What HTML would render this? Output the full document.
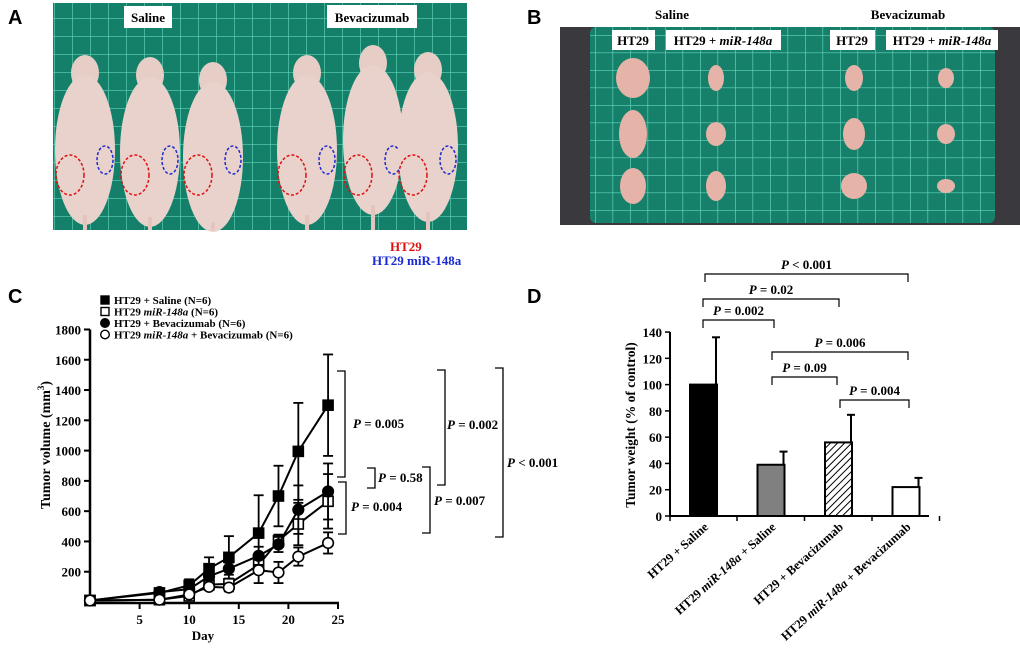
<!DOCTYPE html>
<html><head><meta charset="utf-8"><style>
body{margin:0;background:#fff;}
svg{display:block;font-family:"Liberation Serif",serif;font-weight:bold;}
.sans{font-family:"Liberation Sans",sans-serif;}
</style></head><body>
<svg width="1020" height="654" viewBox="0 0 1020 654">
<defs>
<pattern id="grid" width="18" height="18" patternUnits="userSpaceOnUse"><rect width="18" height="18" fill="#14806a"/><path d="M0 0H18M0 0V18" stroke="#5fd2b8" stroke-width="1.3"/></pattern>
<pattern id="gridB" width="17.5" height="17.5" patternUnits="userSpaceOnUse"><rect width="18" height="18" fill="#16806a"/><path d="M0 0H18M0 0V18" stroke="#62d6bc" stroke-width="1.3"/></pattern>
<pattern id="hatch" width="5" height="5" patternUnits="userSpaceOnUse" patternTransform="rotate(45)"><rect width="5" height="5" fill="#fff"/><line x1="0" y1="0" x2="0" y2="5" stroke="#000" stroke-width="2"/></pattern>
</defs>

<!-- Panel labels -->
<g class="sans" font-size="20" font-family="Liberation Sans, sans-serif">
<text x="8" y="24">A</text>
<text x="527" y="24">B</text>
<text x="8" y="303">C</text>
<text x="527" y="303">D</text>
</g>

<!-- Panel A photo -->
<g>
<rect x="53" y="3" width="414" height="227" fill="url(#grid)"/>
<g id="mice" fill="#e7cfc9"></g>
<rect x="124" y="6" width="48" height="22" fill="#fff"/>
<text x="148" y="22" font-size="13" text-anchor="middle">Saline</text>
<rect x="327" y="5" width="90" height="23" fill="#fff"/>
<text x="372" y="22" font-size="13" text-anchor="middle">Bevacizumab</text>
</g>
<text x="390" y="251" font-size="13" fill="#e01010">HT29</text>
<text x="372" y="265" font-size="13" fill="#1a2ad0">HT29 miR-148a</text>

<!-- Panel B photo -->
<g>
<rect x="560" y="27" width="460" height="198" fill="#3a3a3e"/>
<rect x="590" y="27" width="405" height="196" rx="6" fill="url(#gridB)"/>
<g id="tumors"></g>
<text x="672" y="19" font-size="13" text-anchor="middle">Saline</text>
<text x="908" y="19" font-size="13" text-anchor="middle">Bevacizumab</text>
<rect x="612" y="30" width="43" height="20" fill="#fff"/><text x="633" y="45" font-size="13" text-anchor="middle">HT29</text>
<rect x="666" y="30" width="115" height="20" fill="#fff"/><text x="723" y="45" font-size="13" text-anchor="middle">HT29 + <tspan font-style="italic">miR-148a</tspan></text>
<rect x="830" y="30" width="45" height="20" fill="#fff"/><text x="852" y="45" font-size="13" text-anchor="middle">HT29</text>
<rect x="886" y="30" width="112" height="20" fill="#fff"/><text x="942" y="45" font-size="13" text-anchor="middle">HT29 + <tspan font-style="italic">miR-148a</tspan></text>
</g>

<g id="chartC"></g>
<g id="chartD"></g>
</svg>
<script>
const NS='http://www.w3.org/2000/svg';
function mk(tag,attrs,parent,txt){const e=document.createElementNS(NS,tag);for(const k in attrs)e.setAttribute(k,attrs[k]);if(txt!==undefined)e.textContent=txt;parent.appendChild(e);return e;}

// mice decoration
const mice=document.getElementById('mice');
[[85,55],[150,57],[213,62],[307,55],[373,45],[428,52]].forEach(function(m,i){
  const g=mk('g',{},mice);
  
  
  mk('ellipse',{cx:m[0],cy:m[1]+18,rx:14,ry:18,fill:'#e6cdc6'},g);
  mk('ellipse',{cx:m[0],cy:m[1]+95,rx:30,ry:75,fill:'#e9d2cb'},g);
  mk('rect',{x:m[0]-2,y:m[1]+160,width:4,height:230-m[1]-160,fill:'#e5c4bd'},g);
  mk('ellipse',{cx:m[0]-15,cy:175,rx:14,ry:20,fill:'none',stroke:'#e01010','stroke-width':1.5,'stroke-dasharray':'3 2'},g);
  mk('ellipse',{cx:m[0]+20,cy:160,rx:8,ry:14,fill:'none',stroke:'#1a2ad0','stroke-width':1.5,'stroke-dasharray':'3 2'},g);
});
const tum=document.getElementById('tumors');
[[633,78,17,20],[716,78,8,13],[854,78,9,13],[946,78,8,10],[633,134,14,24],[716,134,10,12],[854,134,11,16],[946,134,9,10],[633,186,13,18],[716,186,10,15],[854,186,13,13],[946,186,9,7]].forEach(function(t){
  const e=mk('ellipse',{cx:t[0],cy:t[1],rx:t[2],ry:t[3],fill:'#e6b3a8'},tum);
  
  
});

// ===== Chart C data =====
const days=[0,7,10,12,14,17,19,21,24];
const salineMean=[10,60,110,220,295,455,700,995,1300];
const salineErr=[0,15,40,75,140,250,200,320,335];
const mirMean=[10,15,40,115,120,245,405,515,665];
const mirErr=[0,10,20,25,30,50,40,140,180];
const bevMean=[10,65,85,170,220,305,380,610,730];
const bevErr=[0,10,20,30,40,60,50,160,185];
const mirBevMean=[10,15,50,100,95,210,195,300,390];
const mirBevErr=[0,8,15,20,25,85,70,60,70];
const yTicksC=[200,400,600,800,1000,1200,1400,1600,1800];
const xTicksC=[5,10,15,20,25];
const C=document.getElementById('chartC');
const xC=d=>90+d*9.92, yC=v=>602-v*0.1514;
mk('line',{x1:90,y1:yC(1800),x2:90,y2:603,stroke:'#000','stroke-width':2.5},C);
mk('line',{x1:89,y1:603,x2:xC(25)+1,y2:603,stroke:'#000','stroke-width':2.5},C);
yTicksC.forEach(function(v){
  mk('line',{x1:84,y1:yC(v),x2:90,y2:yC(v),stroke:'#000','stroke-width':2},C);
  const t=mk('text',{x:81,y:yC(v)+5,'font-size':13,'text-anchor':'end'},C,v);
  
  
});
xTicksC.forEach(function(d){
  mk('line',{x1:xC(d),y1:603,x2:xC(d),y2:609,stroke:'#000','stroke-width':2},C);
  const t=mk('text',{x:xC(d),y:624,'font-size':13,'text-anchor':'middle'},C,d);
  
  
});
mk('text',{x:203,y:640,'font-size':13,'text-anchor':'middle'},C,'Day');
const yt=mk('text',{transform:'translate(50,445) rotate(-90)','font-size':14,'text-anchor':'middle'},C,'Tumor volume (mm');
mk('tspan',{'font-size':9,dy:-6},yt,'3');mk('tspan',{dy:6},yt,')');


const series=[[salineMean,salineErr,'sq',true],[mirMean,mirErr,'sq',false],[bevMean,bevErr,'ci',true],[mirBevMean,mirBevErr,'ci',false]];
const sNames=['saline','mir148a','bevacizumab','mir148a-bevacizumab'];
series.forEach(function(s,si){
  const g=mk('g',{},C);
  
  
  mk('polyline',{points:days.map((d,i)=>xC(d)+','+yC(s[0][i])).join(' '),fill:'none',stroke:'#000','stroke-width':2},g);
  days.forEach(function(d,i){
    const x=xC(d),y=yC(s[0][i]),e=s[1][i]*0.1514;
    if(e>0){mk('line',{x1:x,y1:y-e,x2:x,y2:y+e,stroke:'#000','stroke-width':1.8},g);
      mk('line',{x1:x-5,y1:y-e,x2:x+5,y2:y-e,stroke:'#000','stroke-width':1.8},g);
      mk('line',{x1:x-5,y1:y+e,x2:x+5,y2:y+e,stroke:'#000','stroke-width':1.8},g);}
    const f=s[3]?'#000':'#fff';
    if(s[2]==='sq')mk('rect',{x:x-5,y:y-5,width:10,height:10,fill:f,stroke:'#000','stroke-width':1.6},g);
    else mk('circle',{cx:x,cy:y,r:5.3,fill:f,stroke:'#000','stroke-width':1.6},g);
  });
});
// legend
const leg=[['HT29 + Saline (N=6)','sq',true],['HT29 |miR-148a| (N=6)','sq',false],['HT29 + Bevacizumab (N=6)','ci',true],['HT29 |miR-148a| + Bevacizumab (N=6)','ci',false]];
leg.forEach(function(l,i){
  const y=300+i*11.5;
  const g=mk('g',{},C);
  
  
  const f=l[2]?'#000':'#fff';
  if(l[1]==='sq')mk('rect',{x:101,y:y-4,width:8,height:8,fill:f,stroke:'#000','stroke-width':1.4},g);
  else mk('circle',{cx:105,cy:y,r:4.3,fill:f,stroke:'#000','stroke-width':1.4},g);
  const t=mk('text',{x:114,y:y+4,'font-size':11},g);
  l[0].split('|').forEach((p,j)=>mk('tspan',j===1?{'font-style':'italic'}:{},t,p));
});
// brackets C
const brC=[[345,371,477,'P = 0.005',353,428],[346,482,534,'P = 0.004',351,511],[375,468,488,'P = 0.58',378,482],[445,370,485,'P = 0.002',447,429],[430,467,533,'P = 0.007',434,505],[503,368,537,'P < 0.001',507,467]];
brC.forEach(function(b){
  const g=mk('g',{},C);
  
  
  mk('path',{d:'M'+(b[0]-8)+' '+b[1]+'H'+b[0]+'V'+b[2]+'H'+(b[0]-8),fill:'none',stroke:'#000','stroke-width':1.3},g);
  const t=mk('text',{x:b[4],y:b[5],'font-size':13},g);
  mk('tspan',{'font-style':'italic'},t,'P');mk('tspan',{},t,b[3].slice(1));
});

// ===== Chart D data =====
const groups=['HT29 + Saline','HT29 |miR-148a| + Saline','HT29 + Bevacizumab','HT29 |miR-148a| + Bevacizumab'];
const weightMean=[100,39,56,22];
const weightErr=[36,10,21,7];
const yTicksD=[0,20,40,60,80,100,120,140];
const D=document.getElementById('chartD');
const xD=i=>703+i*67.5, yD=v=>516-v*1.314;
const fills=['#000','#808080','url(#hatch)','#fff'];
yTicksD.forEach(function(v){
  mk('line',{x1:665,y1:yD(v),x2:670,y2:yD(v),stroke:'#000','stroke-width':1.5},D);
  const t=mk('text',{x:662,y:yD(v)+5,'font-size':13,'text-anchor':'end'},D,v);
  
  
});
groups.forEach(function(gname,i){
  const x=xD(i);
  const g=mk('g',{},D);
  
  
  const top=yD(weightMean[i]+weightErr[i]);
  mk('line',{x1:x+13,y1:top,x2:x+13,y2:yD(weightMean[i]),stroke:'#000','stroke-width':2},g);
  mk('line',{x1:x+9,y1:top,x2:x+17,y2:top,stroke:'#000','stroke-width':2},g);
  mk('rect',{x:x-13,y:yD(weightMean[i]),width:27,height:yD(0)-yD(weightMean[i]),fill:fills[i],stroke:'#000','stroke-width':2},g);
  const t=mk('text',{transform:'translate('+(x+6)+',528) rotate(-42)','font-size':12.5,'text-anchor':'end'},D);
  
  
  gname.split('|').forEach((p,j)=>mk('tspan',j===1?{'font-style':'italic'}:{},t,p));
  mk('line',{x1:x+34,y1:516,x2:x+34,y2:521,stroke:'#000','stroke-width':1.5},D);
});
mk('line',{x1:670,y1:yD(140),x2:670,y2:517,stroke:'#000','stroke-width':2},D);
mk('line',{x1:669,y1:516,x2:929,y2:516,stroke:'#000','stroke-width':2},D);
mk('line',{x1:670,y1:516,x2:670,y2:521,stroke:'#000','stroke-width':1.5},D);
mk('text',{transform:'translate(635,425) rotate(-90)','font-size':13.5,'text-anchor':'middle'},D,'Tumor weight (% of control)');
const brD=[[705,908,274,'P < 0.001'],[703,839,299,'P = 0.02'],[703,774,320,'P = 0.002'],[772,908,352,'P = 0.006'],[772,837,377,'P = 0.09'],[840,909,400,'P = 0.004']];
brD.forEach(function(b){
  const g=mk('g',{},D);
  
  
  mk('path',{d:'M'+b[0]+' '+(b[2]+8)+'V'+b[2]+'H'+b[1]+'V'+(b[2]+8),fill:'none',stroke:'#000','stroke-width':1.2},g);
  const t=mk('text',{x:(b[0]+b[1])/2,y:b[2]-5,'font-size':13,'text-anchor':'middle'},g);
  mk('tspan',{'font-style':'italic'},t,'P');mk('tspan',{},t,b[3].slice(1));
});
</script>
</body></html>
